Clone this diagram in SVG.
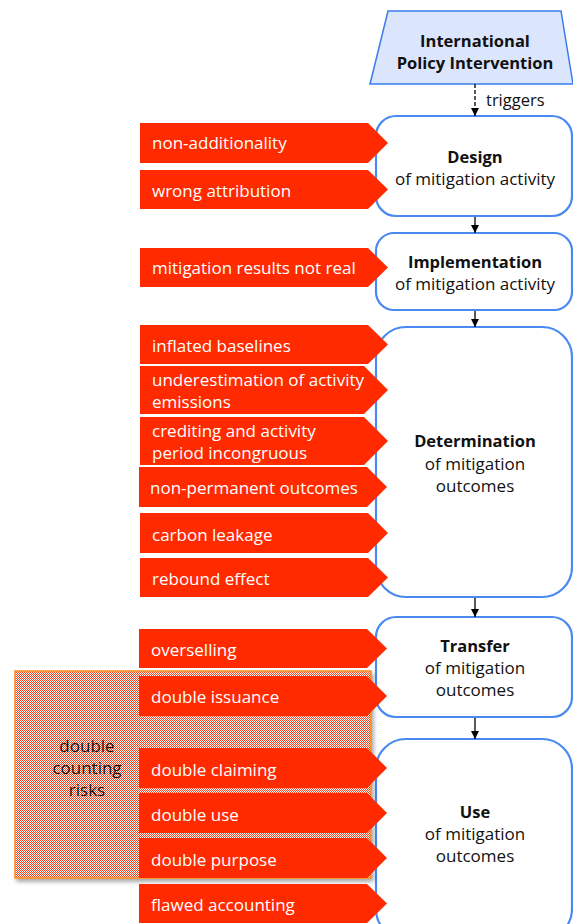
<svg xmlns="http://www.w3.org/2000/svg" width="573" height="924" viewBox="0 0 573 924">
<style>
.node{fill:#fff;stroke:#4a8af0;stroke-width:2.2}
.t{font-family:"Open Sans","Liberation Sans",Arial,sans-serif;font-size:17px;fill:#111;text-anchor:middle}
.b{font-weight:bold;font-size:16.5px}
.risk{fill:#ff2a00}
.rt{font-family:"Open Sans","Liberation Sans",Arial,sans-serif;font-size:17px;fill:#fff}
.conn{stroke:#000;stroke-width:1.3;fill:none}
</style>
<defs>
<marker id="ah" viewBox="0 0 10 10" refX="10" refY="5" markerWidth="8" markerHeight="8" orient="auto" markerUnits="userSpaceOnUse"><path d="M0,0 L10,5 L0,10 z" fill="#000"/></marker>
<pattern id="chk" width="2" height="2" patternUnits="userSpaceOnUse"><rect width="2" height="2" fill="#fff"/><rect width="1" height="1" fill="#f2401e"/><rect x="1" y="1" width="1" height="1" fill="#f2401e"/></pattern>
<filter id="sh" x="-5%" y="-5%" width="115%" height="115%"><feDropShadow dx="2" dy="3" stdDeviation="2" flood-color="#000" flood-opacity="0.35"/></filter>
</defs>

<g id="policy">
<polygon points="388,11 561,11 573,84 370,84" fill="#dbe5fb" stroke="#3a7de8" stroke-width="1.5"/>
<text class="t b" x="475" y="47">International</text>
<text class="t b" x="475" y="69">Policy Intervention</text>
</g>

<g id="design"><rect class="node" x="376" y="116" width="196" height="100" rx="20"/>
<text class="t b" x="475" y="163">Design</text><text class="t" x="475" y="185">of mitigation activity</text></g>

<g id="implementation"><rect class="node" x="376" y="233" width="196" height="77" rx="18"/>
<text class="t b" x="475" y="268">Implementation</text><text class="t" x="475" y="290">of mitigation activity</text></g>

<g id="determination"><rect class="node" x="376" y="327" width="196" height="270" rx="30"/>
<text class="t b" x="475" y="447">Determination</text><text class="t" x="475" y="470">of mitigation</text><text class="t" x="475" y="492">outcomes</text></g>

<g id="transfer"><rect class="node" x="376" y="617" width="196" height="100" rx="20"/>
<text class="t b" x="475" y="652">Transfer</text><text class="t" x="475" y="674">of mitigation</text><text class="t" x="475" y="696">outcomes</text></g>

<g id="use"><rect class="node" x="376" y="739" width="196" height="200" rx="30"/>
<text class="t b" x="475" y="818">Use</text><text class="t" x="475" y="840">of mitigation</text><text class="t" x="475" y="862">outcomes</text></g>

<g id="connectors">
<line class="conn" x1="475" y1="84" x2="475" y2="116" stroke-dasharray="4,2" marker-end="url(#ah)"/>
<text x="486" y="106" font-family="'Open Sans','Liberation Sans',Arial,sans-serif" font-size="16.5" fill="#111">triggers</text>
<line class="conn" x1="475" y1="217" x2="475" y2="233" marker-end="url(#ah)"/>
<line class="conn" x1="475" y1="311" x2="475" y2="327" marker-end="url(#ah)"/>
<line class="conn" x1="475" y1="598" x2="475" y2="617" marker-end="url(#ah)"/>
<line class="conn" x1="475" y1="718" x2="475" y2="739" marker-end="url(#ah)"/>
</g>

<g id="double-counting">
<rect x="15" y="671" width="356" height="207" fill="url(#chk)" stroke="#ff8a1a" stroke-width="1.5" filter="url(#sh)"/>
<text class="t" x="87" y="752" fill="#222">double</text>
<text class="t" x="87" y="774" fill="#222">counting</text>
<text class="t" x="87" y="796" fill="#222">risks</text>
</g>

<g id="risks">
<g id="r1"><polygon class="risk" points="140,123 368,123 388,143 368,163 140,163"/><text class="rt" x="152" y="149">non-additionality</text></g>
<g id="r2"><polygon class="risk" points="140,170 368,170 388,189.5 368,209 140,209"/><text class="rt" x="152" y="197">wrong attribution</text></g>
<g id="r3"><polygon class="risk" points="140,248 368,248 388,267.5 368,287 140,287"/><text class="rt" x="152" y="274">mitigation results not real</text></g>
<g id="r4"><polygon class="risk" points="140,325 368,325 388,344.5 368,364 140,364"/><text class="rt" x="152" y="352">inflated baselines</text></g>
<g id="r5"><polygon class="risk" points="140,366 364,366 388,390 364,414 140,414"/><text class="rt" x="152" y="386">underestimation of activity</text><text class="rt" x="152" y="408">emissions</text></g>
<g id="r6"><polygon class="risk" points="140,417 364,417 388,441 364,465 140,465"/><text class="rt" x="152" y="437">crediting and activity</text><text class="rt" x="152" y="459">period incongruous</text></g>
<g id="r7"><polygon class="risk" points="139,467 367,467 387,487 367,507 139,507"/><text class="rt" x="150" y="494">non-permanent outcomes</text></g>
<g id="r8"><polygon class="risk" points="140,513 368,513 388,533 368,553 140,553"/><text class="rt" x="152" y="541">carbon leakage</text></g>
<g id="r9"><polygon class="risk" points="140,558 368,558 388,577.5 368,597 140,597"/><text class="rt" x="152" y="585">rebound effect</text></g>
<g id="r10"><polygon class="risk" points="139,629 367,629 387,648.5 367,668 139,668"/><text class="rt" x="151" y="656">overselling</text></g>
<g id="r11"><polygon class="risk" points="139,676 367,676 387,696 367,716 139,716"/><text class="rt" x="151" y="703">double issuance</text></g>
<g id="r12"><polygon class="risk" points="139,748 367,748 387,768 367,788 139,788"/><text class="rt" x="151" y="776">double claiming</text></g>
<g id="r13"><polygon class="risk" points="139,793 367,793 387,813 367,833 139,833"/><text class="rt" x="151" y="821">double use</text></g>
<g id="r14"><polygon class="risk" points="139,838 367,838 387,858 367,878 139,878"/><text class="rt" x="151" y="866">double purpose</text></g>
<g id="r15"><polygon class="risk" points="139,884 367,884 387,903.5 367,923 139,923"/><text class="rt" x="151" y="911">flawed accounting</text></g>
</g>
</svg>
